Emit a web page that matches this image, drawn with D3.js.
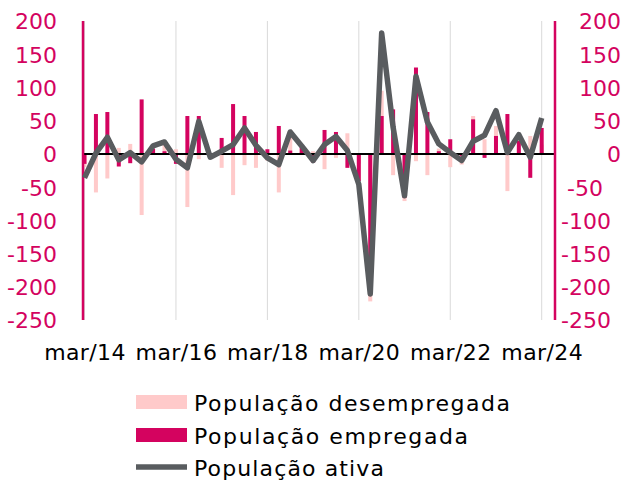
<!DOCTYPE html>
<html><head><meta charset="utf-8">
<script src="https://cdn.jsdelivr.net/npm/d3@7"></script>
<style>body{margin:0;background:#fff}svg{display:block}</style>
</head><body><svg id="c" width="632" height="480"></svg>
<script>
const quarters = d3.range(41).map(i => {
  const y = 14 + Math.floor(i / 4), m = ["mar","jun","set","dez"][i % 4];
  return m + "/" + y;
});
const empregada = [-15,60,63,-19,-14,82,8,4,-15,57,57,-3,24,75,57,33,7,42,5,10,-13,36,33,-21,-41,-205,57,67,-66,130,63,4,22,-3,52,-6,27,60,20,-36,39];
const desempregada = [-20,-58,-37,9,15,-92,4,14,7,-80,-8,-3,-21,-62,-17,-21,-10,-58,36,3,4,-23,-6,31,-15,-222,95,-32,-71,-11,-32,8,-20,-16,57,22,42,-56,8,27,14];
const ativa = [-36,1,25,-9,2,-12,12,18,-8,-21,49,-5,4,14,39,13,-6,-16,33,12,-10,14,26,5,-46,-211,182,40,-63,117,48,15,2,-10,19,28,65,2,29,-5,54];
const yTicks = [200,150,100,50,0,-50,-100,-150,-200,-250];
const xLabels = ["mar/14","mar/16","mar/18","mar/20","mar/22","mar/24"];
const legendNames = ["População desempregada","População empregada","População ativa"];

const MAG = "#D4035F", PINK = "#FFCACA", GREY = "#595C5F", TXT = "#D4035F";
const FONT = "DejaVu Sans";
const svg = d3.select("#c");
const x = d3.scalePoint().domain(quarters).range([84.5, 541.7]);
const y = d3.scaleLinear().domain([-250, 200]).range([320, 21]);
const L = 83, R = 555;

// gridlines at labelled quarters
svg.append("g").selectAll("line").data(xLabels).join("line")
  .attr("x1", d => x(d)).attr("x2", d => x(d)).attr("y1", y(200)).attr("y2", y(-250))
  .attr("stroke", "#D9D9D9").attr("stroke-width", 1);

const bw = 4;
svg.append("g").selectAll("rect").data(quarters).join("rect")
  .attr("x", (d) => x(d) - bw/2).attr("width", bw)
  .attr("y", (d,i) => y(Math.max(0, desempregada[i])))
  .attr("height", (d,i) => Math.abs(y(desempregada[i]) - y(0)))
  .attr("fill", PINK);
svg.append("g").selectAll("rect").data(quarters).join("rect")
  .attr("x", (d) => x(d) - bw/2).attr("width", bw)
  .attr("y", (d,i) => y(Math.max(0, empregada[i])))
  .attr("height", (d,i) => Math.abs(y(empregada[i]) - y(0)))
  .attr("fill", MAG);

// zero line
svg.append("line").attr("x1", L).attr("x2", R).attr("y1", y(0)).attr("y2", y(0))
  .attr("stroke", "#000").attr("stroke-width", 2);

// axis lines
[L, R].forEach(xx => svg.append("line").attr("x1", xx).attr("x2", xx)
  .attr("y1", y(200)).attr("y2", y(-250)).attr("stroke", MAG).attr("stroke-width", 2.5));

// line
svg.append("path").datum(ativa)
  .attr("d", d3.line().x((d,i) => x(quarters[i])).y(d => y(d)))
  .attr("fill", "none").attr("stroke", GREY).attr("stroke-width", 5.5)
  .attr("stroke-linejoin", "round").attr("stroke-linecap", "butt");

// left axis
const ax = svg.append("g").attr("transform", `translate(${L},0)`)
  .call(d3.axisLeft(y).tickValues(yTicks).tickSize(0).tickPadding(26).tickFormat(d3.format("d")));
ax.select(".domain").remove();
ax.selectAll("text").attr("fill", TXT).style("font-family", FONT).style("font-size", "22px")
  .attr("dy", "0.36em").text(d => String(d));
// right axis
const ar = svg.append("g").attr("transform", `translate(${R},0)`)
  .call(d3.axisRight(y).tickValues(yTicks).tickSize(0).tickPadding(10).tickFormat(d3.format("d")));
ar.select(".domain").remove();
ar.selectAll("text").attr("fill", TXT).style("font-family", FONT).style("font-size", "22px")
  .attr("dy", "0.36em").text(d => String(d))
  .attr("text-anchor", d => d >= 0 ? "end" : "start")
  .attr("x", d => d >= 0 ? 66 : (d <= -100 ? 6 : 12));

// x labels
const axb = svg.append("g").attr("transform", `translate(0,${y(-250)})`)
  .call(d3.axisBottom(x).tickValues(xLabels).tickSize(0).tickPadding(24));
axb.select(".domain").remove();
axb.selectAll("text").attr("fill", "#000").style("font-family", FONT).style("font-size", "22px")
  .style("letter-spacing", "0.4px");

// legend
const lg = svg.append("g");
const ly = [402, 435, 467];
const lw = [316, 274, 190];
lg.append("rect").attr("x", 136).attr("y", ly[0]-7).attr("width", 51).attr("height", 14).attr("fill", PINK);
lg.append("rect").attr("x", 136).attr("y", ly[1]-7).attr("width", 51).attr("height", 14).attr("fill", MAG);
lg.append("line").attr("x1", 136).attr("x2", 187).attr("y1", ly[2]).attr("y2", ly[2])
  .attr("stroke", GREY).attr("stroke-width", 5.5);
lg.selectAll("text").data(legendNames).join("text")
  .attr("x", 194).attr("y", (d,i) => ly[i] + 1).attr("dy", "0.36em")
  .attr("textLength", (d,i) => lw[i]).attr("lengthAdjust", "spacing")
  .style("font-family", FONT).style("font-size", "22px").attr("fill", "#000")
  .text(d => d);
</script></body></html>
